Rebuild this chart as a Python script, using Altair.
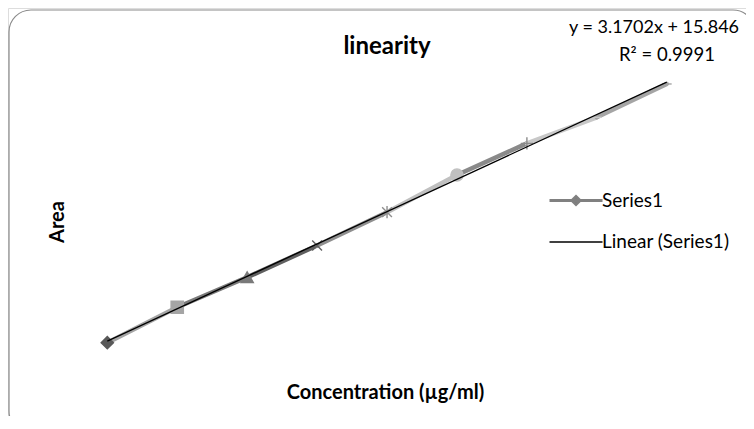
import altair as alt
import pandas as pd

# ---- data ----
conc = [10, 20, 30, 40, 50, 60, 70, 80, 90]
area = [46.1, 80.7, 110.1, 141.2, 173.8, 210.2, 241.2, 266.7, 299.3]
point_ids = ["p1", "p2", "p3", "p4", "p5", "p6", "p7", "p8", "p9"]
series_labels = ["Series1", "Linear (Series1)"]
title_text = "linearity"
x_title = "Concentration (µg/ml)"
y_title = "Area"
eq_lines = ["y = 3.1702x + 15.846", "R² = 0.9991"]

df = pd.DataFrame({"conc": conc, "area": area, "pt": point_ids})
one_row = pd.DataFrame({"k": [0]})

# ---- styles ----
FONT = "Lato"
X_PATH = "M-0.8,-0.8L0.8,0.8M-0.8,0.8L0.8,-0.8"
AST_PATH = "M-0.8,-0.8L0.8,0.8M-0.8,0.8L0.8,-0.8M0,-1L0,1"
PLUS_PATH = "M-1,0L1,0M0,-1L0,1"
DASH_PATH = "M-0.8,0L0.8,0"
marker_shapes = ["diamond", "square", "triangle-up", X_PATH, AST_PATH,
                 "circle", PLUS_PATH, DASH_PATH, DASH_PATH]
marker_colors = ["#595959", "#a5a5a5", "#7a7a7a", "#5f5f5f", "#8f8f8f",
                 "#c0c0c0", "#8a8a8a", "#c8c8c8", "#a5a5a5"]
pt_color = alt.Scale(domain=point_ids, range=marker_colors)

S1_PATH = "M-2.65,0L2.65,0M0,-0.4L0.4,0L0,0.4L-0.4,0Z"
LIN_PATH = "M-2.65,0L2.65,0"

W, H = 738, 408
xs = alt.Scale(domain=[-4.2, 101.33], nice=False, zero=False)
ys = alt.Scale(domain=[-25.7, 373.67], nice=False, zero=False)

x_enc = alt.X("conc:Q", scale=xs, axis=alt.Axis(
    title=x_title, domain=False, ticks=False, labels=False, grid=False,
    titleX=377, titleY=390 - H, titleAlign="center", titleBaseline="alphabetic",
    titleFont=FONT, titleFontSize=20, titleFontWeight="bold", titleColor="#000000"))
y_enc = alt.Y("area:Q", scale=ys, axis=alt.Axis(
    title=y_title, domain=False, ticks=False, labels=False, grid=False,
    titleX=55, titleY=213.5, titleAngle=270, titleAlign="center", titleBaseline="alphabetic",
    titleFont=FONT, titleFontSize=20, titleFontWeight="bold", titleColor="#000000"))
x_plain = alt.X("conc:Q", scale=xs)
y_plain = alt.Y("area:Q", scale=ys)

# rounded frame of the chart area (runs past the right and bottom edges, as in the reference)
frame = alt.Chart(one_row).mark_rect(
    fill="transparent", stroke="#8a8a8a", strokeWidth=1.2, cornerRadius=22
).encode(x=alt.value(1), x2=alt.value(747), y=alt.value(2), y2=alt.value(425))

segments = alt.Chart(df).transform_window(
    prev_conc="lag(conc)", prev_area="lag(area)", sort=[alt.SortField("conc")]
).transform_filter("datum.prev_conc != null").mark_rule(
    strokeWidth=4.5, strokeCap="round"
).encode(
    x=x_enc, y=y_enc, x2="prev_conc:Q", y2="prev_area:Q",
    color=alt.Color("pt:N", scale=pt_color, legend=None),
)

markers = alt.Chart(df).mark_point(filled=True, strokeWidth=1.4, opacity=1, size=150).encode(
    x=x_plain, y=y_plain,
    shape=alt.Shape("pt:N", scale=alt.Scale(domain=point_ids, range=marker_shapes), legend=None),
    fill=alt.Fill("pt:N", scale=pt_color, legend=None),
    stroke=alt.Stroke("pt:N", scale=pt_color, legend=None),
)

trend = alt.Chart(df).transform_regression("conc", "area").mark_line(
    color="#000000", strokeWidth=1.3
).encode(x=x_plain, y=y_plain)

leg = alt.Legend(title=None, orient="none", legendX=556.5, legendY=181,
                 symbolSize=400, labelOffset=14.5, rowPadding=20,
                 labelFont=FONT, labelFontSize=19, labelColor="#000000",
                 padding=0, symbolOpacity=1)
legend_layer = alt.Chart(df).transform_calculate(
    label="'Series1'"
).mark_point(opacity=0).encode(
    x=x_plain, y=y_plain,
    shape=alt.Shape("label:N", scale=alt.Scale(domain=series_labels, range=[S1_PATH, LIN_PATH]),
                    legend=leg),
    stroke=alt.Stroke("label:N", scale=alt.Scale(domain=series_labels, range=["#808080", "#000000"]),
                      legend=leg),
    fill=alt.Fill("label:N", scale=alt.Scale(domain=series_labels, range=["#595959", "transparent"]),
                  legend=leg),
    strokeWidth=alt.StrokeWidth("label:N", scale=alt.Scale(type="point", domain=series_labels,
                                                          range=[3, 1.4], padding=0), legend=leg),
)

eq1 = alt.Chart(pd.DataFrame({"t": [eq_lines[0]]})).mark_text(
    font=FONT, fontSize=18, color="#000000", align="left", baseline="alphabetic"
).encode(text="t:N", x=alt.value(561), y=alt.value(25))
eq2 = alt.Chart(pd.DataFrame({"t": [eq_lines[1]]})).mark_text(
    font=FONT, fontSize=18.5, color="#000000", align="center", baseline="alphabetic"
).encode(text="t:N", x=alt.value(659), y=alt.value(53))

chart = alt.layer(frame, segments, markers, trend, legend_layer, eq1, eq2).resolve_scale(
    color="independent", fill="independent", stroke="independent",
    shape="independent", strokeWidth="independent",
).properties(
    width=W, height=H,
    autosize="none",
    padding=0,
    title=alt.Title(title_text, anchor="middle", frame="group", font=FONT, fontSize=24,
                    fontWeight="bold", color="#000000", baseline="alphabetic",
                    offset=0, dy=70, dx=10),
).configure_view(
    stroke=None, fill="#ffffff"
).configure(background="#ffffff")

chart.save("out.html", embed_options={"renderer": "svg", "actions": False})
